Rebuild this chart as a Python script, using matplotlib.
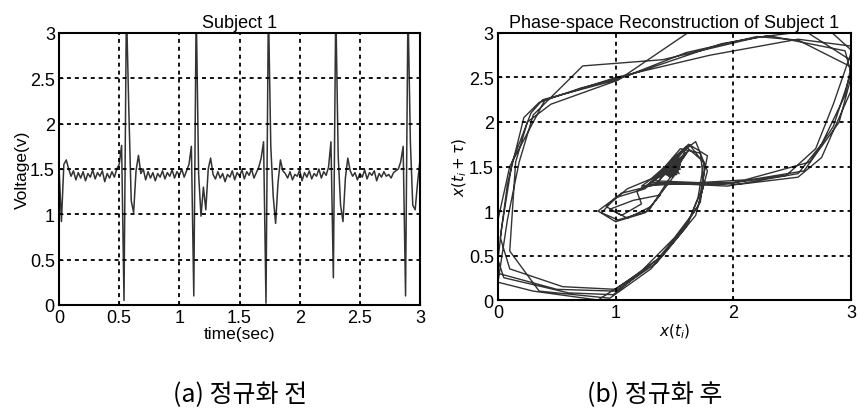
import matplotlib
matplotlib.use('Agg')
import matplotlib.pyplot as plt
import numpy as np

plt.rcParams['font.family'] = ['Liberation Sans', 'DejaVu Sans']

# 원 신호 (0.02초 간격 샘플)
voltage = [
    1.50, 0.92, 1.55, 1.60, 1.50, 1.42, 1.48, 1.38, 1.46, 1.40,
    1.47, 1.37, 1.45, 1.41, 1.49, 1.39, 1.46, 1.42, 1.48, 1.36,
    1.45, 1.40, 1.47, 1.41, 1.50, 1.55, 1.76, 0.05, 3.30, 2.15,
    1.15, 1.02, 1.48, 1.65, 1.45, 1.50, 1.38, 1.47, 1.40, 1.46,
    1.37, 1.45, 1.41, 1.48, 1.39, 1.46, 1.42, 1.49, 1.40, 1.47,
    1.43, 1.50, 1.41, 1.48, 1.55, 1.75, 0.10, 3.30, 1.45, 0.98,
    1.30, 1.05, 1.50, 1.62, 1.44, 1.39, 1.47, 1.40, 1.45, 1.36,
    1.44, 1.41, 1.48, 1.38, 1.46, 1.42, 1.49, 1.39, 1.47, 1.43,
    1.50, 1.40, 1.46, 1.52, 1.62, 1.80, 0.02, 3.30, 1.75, 1.20,
    0.90, 1.35, 1.60, 1.48, 1.45, 1.40, 1.47, 1.38, 1.44, 1.42,
    1.49, 1.37, 1.46, 1.41, 1.48, 1.39, 1.45, 1.42, 1.50, 1.40,
    1.47, 1.43, 1.52, 1.80, 0.30, 3.30, 1.65, 1.10, 0.92, 1.40,
    1.62, 1.48, 1.42, 1.46, 1.38, 1.45, 1.41, 1.49, 1.39, 1.46,
    1.43, 1.48, 1.37, 1.45, 1.41, 1.47, 1.42, 1.44, 1.40, 1.46,
    1.48, 1.50, 1.58, 1.75, 0.10, 3.30, 1.80, 1.10, 1.05, 1.35,
    1.60,
]
time = np.arange(len(voltage)) * 0.02

# 위상 공간 궤적 (x(t_i), x(t_i+tau))
phase_x = [
    1.45, 1.50, 1.43, 1.48, 1.53, 1.41, 1.47, 1.52, 1.44, 1.40, 1.49,
    1.42, 1.51, 1.46, 1.39, 1.50, 1.44, 1.48,
    1.55, 1.30, 1.95, 2.55, 2.75, 2.95, 3.00, 2.55, 2.20, 1.60, 1.00, 0.38,
    0.28, 0.12, 0.03, 0.00, 0.05, 0.60, 0.98, 1.35, 1.62, 1.72, 1.78, 1.62, 1.48,
    1.35, 1.05, 0.85, 1.00, 1.25, 1.38, 1.15, 0.95, 1.10, 1.30, 1.50,
    1.46, 1.52, 1.42, 1.49, 1.55, 1.44, 1.50, 1.41, 1.47, 1.40, 1.53, 1.45,
    1.58, 1.22, 2.10, 2.65, 2.85, 3.00, 2.95, 2.30, 1.90, 1.10, 0.70, 0.35,
    0.22, 0.08, 0.02, 0.10, 0.55, 1.00, 1.40, 1.68, 1.75, 1.72, 1.55, 1.42,
    1.30, 1.10, 0.92, 1.05, 1.22, 1.18, 1.45,
    1.50, 1.43, 1.48, 1.54, 1.46, 1.40, 1.51, 1.44, 1.49, 1.42, 1.52,
    1.60, 1.28, 2.00, 2.60, 2.90, 3.05, 2.80, 2.20, 1.40, 0.72, 0.30, 0.18,
    0.08, 0.00, 0.30, 0.85, 1.20, 1.50, 1.70, 1.78, 1.68, 1.52,
    1.44, 1.50, 1.47, 1.41, 1.53, 1.45, 1.49, 1.43, 1.51, 1.46,
    1.62, 1.32, 2.05, 2.55, 2.75, 3.00, 3.05, 2.60, 1.70, 1.02, 0.45, 0.25,
    0.15, 0.10, 0.35, 0.95, 1.30, 1.55, 1.72, 1.76, 1.63, 1.46,
    1.50, 1.42, 1.48, 1.55, 1.45, 1.40, 1.51, 1.47, 1.43,
    1.25, 1.00, 0.88, 1.02, 1.28, 1.45,
    1.60, 1.35, 1.90, 2.45, 2.70, 2.85, 3.02, 2.55, 1.80, 1.00, 0.65, 0.40,
    0.10, 0.00, 0.00, 0.50, 1.00, 1.35, 1.60, 1.70, 1.75, 1.60, 1.47,
    1.44, 1.50, 1.46, 1.41, 1.49,
]
phase_y = [
    1.42, 1.47, 1.50, 1.38, 1.45, 1.46, 1.52, 1.41, 1.40, 1.48, 1.44,
    1.49, 1.43, 1.39, 1.45, 1.51, 1.47, 1.41,
    1.56, 1.32, 1.28, 1.42, 1.75, 2.30, 2.62, 2.92, 2.96, 2.78, 2.47, 2.25,
    2.10, 1.55, 0.80, 0.45, 0.25, 0.08, 0.06, 0.45, 0.88, 1.20, 1.62, 1.75, 1.58,
    1.30, 1.20, 1.00, 0.88, 0.98, 1.18, 1.12, 1.02, 0.92, 1.05, 1.40,
    1.50, 1.44, 1.41, 1.53, 1.47, 1.45, 1.40, 1.50, 1.43, 1.46, 1.49, 1.39,
    1.62, 1.28, 1.35, 1.55, 1.95, 2.55, 2.80, 2.97, 2.88, 2.52, 2.38, 2.22,
    2.05, 1.30, 0.70, 0.35, 0.15, 0.12, 0.50, 0.95, 1.30, 1.65, 1.70, 1.50,
    1.36, 1.25, 1.05, 0.95, 1.08, 1.22, 1.45,
    1.50, 1.43, 1.47, 1.42, 1.55, 1.44, 1.46, 1.40, 1.52, 1.48, 1.43,
    1.72, 1.30, 1.32, 1.45, 2.00, 2.75, 3.05, 2.95, 2.70, 2.63, 2.08, 1.55,
    0.90, 0.20, 0.10, 0.00, 0.30, 0.70, 1.05, 1.45, 1.78, 1.62,
    1.47, 1.41, 1.52, 1.45, 1.49, 1.40, 1.46, 1.51, 1.44, 1.38,
    1.68, 1.34, 1.30, 1.38, 1.60, 2.35, 2.65, 3.03, 3.08, 2.47, 2.20, 2.00,
    1.55, 0.55, 0.10, 0.02, 0.35, 0.75, 1.10, 1.52, 1.74, 1.52,
    1.45, 1.49, 1.40, 1.52, 1.44, 1.41, 1.49, 1.46, 1.50,
    1.25, 1.15, 0.98, 0.90, 1.00, 1.35,
    1.65, 1.32, 1.30, 1.40, 1.70, 2.20, 2.85, 2.93, 2.75, 2.50, 2.35, 2.25,
    1.50, 0.90, 0.30, 0.12, 0.10, 0.42, 0.82, 1.15, 1.55, 1.72, 1.50,
    1.44, 1.48, 1.42, 1.47, 1.45,
]

ticks_a = [0, 0.5, 1, 1.5, 2, 2.5, 3]
ticks_b = [0, 1, 2, 3]
labels_a = ['0', '0.5', '1', '1.5', '2', '2.5', '3']

fig = plt.figure(figsize=(8.58, 4.14), dpi=100)
ax1 = fig.add_axes([0.0688, 0.2609, 0.4207, 0.657])
ax2 = fig.add_axes([0.5804, 0.2729, 0.4114, 0.645])

grid_kw = dict(color='black', linestyle=(0, (2.2, 2.2)), linewidth=1.3)

# (a) 시간 영역 신호
ax1.plot(time, voltage, color='#333333', linewidth=1.1)
ax1.set_xlim(0, 3)
ax1.set_ylim(0, 3)
ax1.set_xticks(ticks_a)
ax1.set_yticks(ticks_a)
ax1.set_xticklabels(labels_a)
ax1.set_yticklabels(labels_a)
ax1.grid(True, **grid_kw)
ax1.set_title('Subject 1', fontsize=13, pad=4)
ax1.set_xlabel('time(sec)', fontsize=12.5, labelpad=0)
ax1.set_ylabel('Voltage(v)', fontsize=12.5, labelpad=0)

# (b) 위상 공간 재구성
ax2.plot(phase_x, phase_y, color='#333333', linewidth=1.0)
ax2.set_xlim(0, 3)
ax2.set_ylim(0, 3)
ax2.set_xticks(ticks_b)
ax2.set_yticks(ticks_a)
ax2.set_yticklabels(labels_a)
ax2.grid(True, **grid_kw)
ax2.set_title('Phase-space Reconstruction of Subject 1', fontsize=13, pad=4)
ax2.set_xlabel(r'$x(t_i)$', fontsize=11, labelpad=0)
ax2.set_ylabel(r'$x(t_i+\tau)$', fontsize=11, labelpad=0)

for ax in (ax1, ax2):
    ax.tick_params(direction='in', length=3, labelsize=13, pad=3)
    for s in ax.spines.values():
        s.set_linewidth(1.5)
    ax.set_axisbelow(False)

fig.text(0.28, 0.045, '(a) 정규화 전', ha='center', va='center', fontsize=18,
         family=['Noto Sans CJK KR', 'DejaVu Sans'])
fig.text(0.763, 0.045, '(b) 정규화 후', ha='center', va='center', fontsize=18,
         family=['Noto Sans CJK KR', 'DejaVu Sans'])

fig.savefig('out.png', dpi=100)
